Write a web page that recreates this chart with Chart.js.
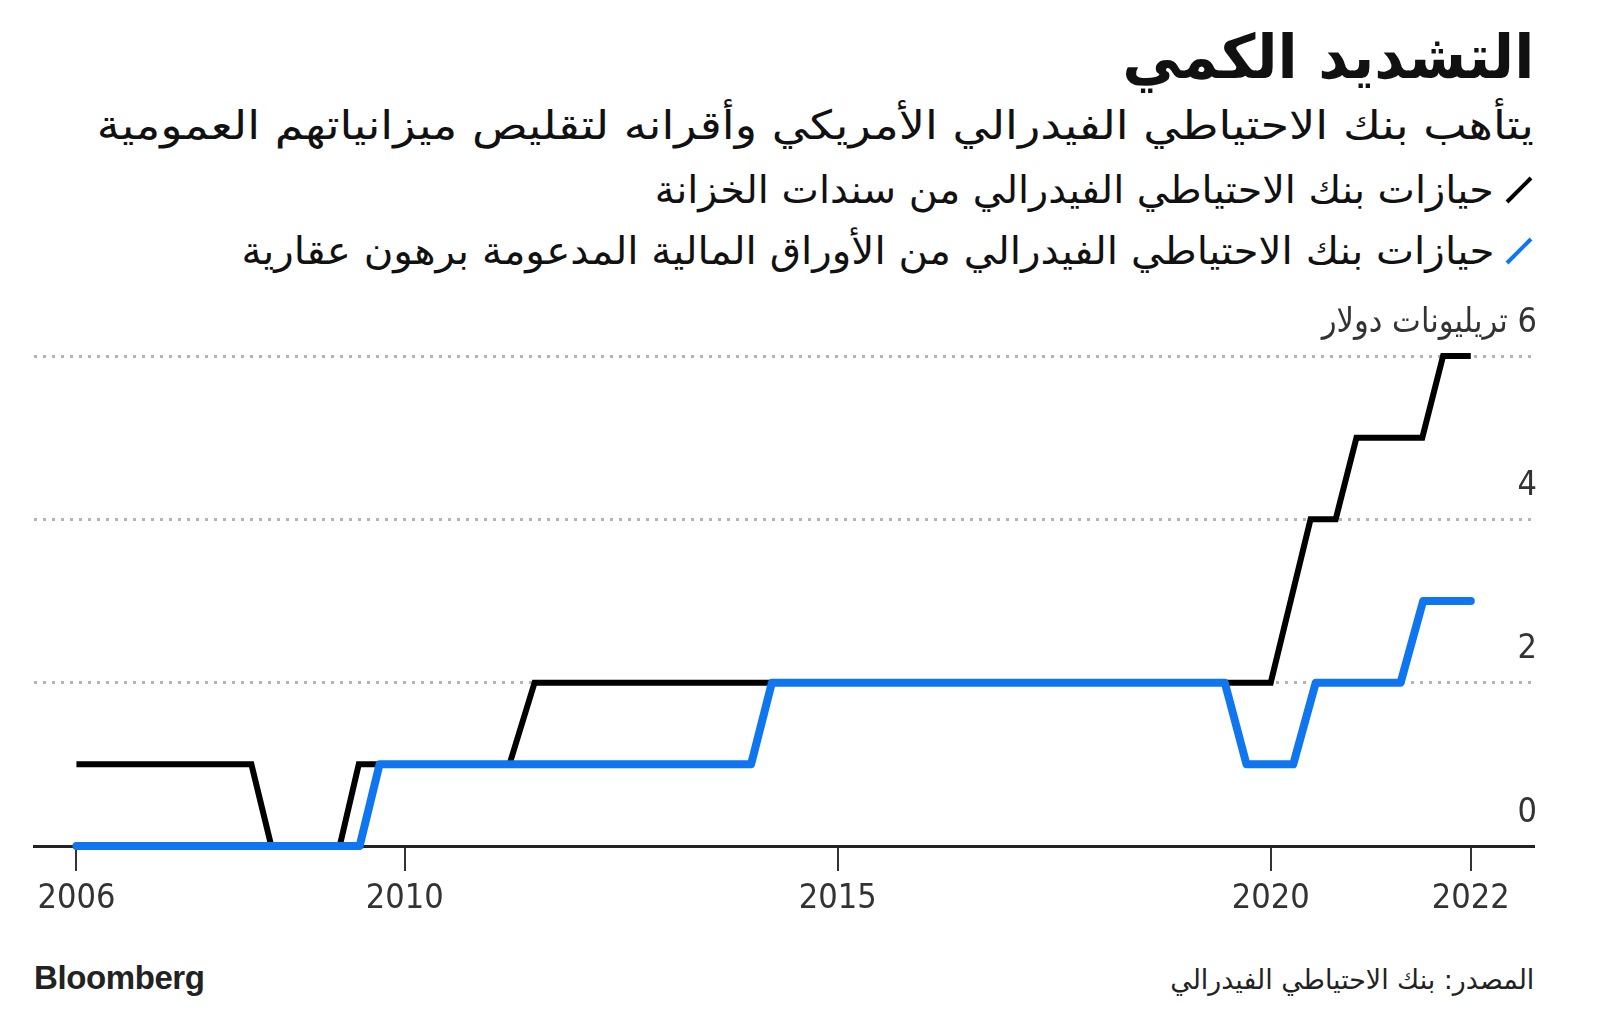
<!DOCTYPE html>
<html lang="ar">
<head>
<meta charset="utf-8">
<script src="https://cdn.jsdelivr.net/npm/chart.js@4.4.0/dist/chart.umd.min.js"></script>
<style>
  html, body { margin: 0; padding: 0; background: #fff; }
  body { width: 1600px; height: 1010px; position: relative; overflow: hidden;
         font-family: "DejaVu Sans", sans-serif; color: #111; }
  .txt { position: absolute; right: 66px; direction: rtl; white-space: nowrap; line-height: 1; }
  .fit { display: inline-block; transform-origin: right center; }
  #title { top: 26px; font-size: 61px; font-weight: bold; }
  #subtitle { top: 105px; font-size: 40px; }
  .leg { font-size: 38px; display: flex; align-items: center; gap: 10px; }
  #leg1 { top: 171px; }
  #leg2 { top: 232px; }
  #source { top: 966px; font-size: 27px; color: #222; }
  #brand { position: absolute; left: 34px; top: 961px; font-family: "Liberation Sans", Arial, sans-serif;
           font-size: 33px; font-weight: bold; letter-spacing: -0.4px; color: #222; line-height: 1; }
  #chart { position: absolute; left: 0; top: 280px; direction: rtl; }
</style>
</head>
<body>
<div class="txt" id="title"><span class="fit" data-w="412">التشديد الكمي</span></div>
<div class="txt" id="subtitle"><span class="fit" data-w="1437">يتأهب بنك الاحتياطي الفيدرالي الأمريكي وأقرانه لتقليص ميزانياتهم العمومية</span></div>
<div class="txt leg" id="leg1"><svg width="30" height="30"><line x1="3" y1="27" x2="27" y2="3" stroke="#000" stroke-width="4"/></svg><span class="fit" data-w="839">حيازات بنك الاحتياطي الفيدرالي من سندات الخزانة</span></div>
<div class="txt leg" id="leg2"><svg width="30" height="30"><line x1="3" y1="27" x2="27" y2="3" stroke="#0f76ef" stroke-width="4"/></svg><span class="fit" data-w="1253">حيازات بنك الاحتياطي الفيدرالي من الأوراق المالية المدعومة برهون عقارية</span></div>
<canvas id="chart" width="1600" height="660"></canvas>
<div id="brand">Bloomberg</div>
<div class="txt" id="source"><span class="fit" data-w="364">المصدر: بنك الاحتياطي الفيدرالي</span></div>

<script>
// سندات الخزانة (تريليون دولار)
const treasuryYears = [2006.21, 2008.23, 2008.46, 2009.25, 2009.47, 2011.21, 2011.50, 2020.00, 2020.46, 2020.75, 2020.99, 2021.75, 2021.99, 2022.31];
const treasuryValues = [1, 1, 0, 0, 1, 1, 2, 2, 4, 4, 5, 5, 6, 6];

// الأوراق المالية المدعومة برهون عقارية
const mbsYears = [2006.21, 2009.48, 2009.71, 2014.00, 2014.24, 2019.47, 2019.72, 2020.26, 2020.52, 2021.50, 2021.76, 2022.31];
const mbsValues = [0, 0, 1, 1, 2, 2, 1, 1, 2, 2, 3, 3];

const xTickValues = [2006.21, 2010, 2015, 2020, 2022.31];
const xTickLabels = ['2006', '2010', '2015', '2020', '2022'];
const yTickValues = [0, 2, 4, 6];
const yUnit = 'تريليونات دولار';

const FONT = '"DejaVu Sans Condensed", "DejaVu Sans", sans-serif';

// stretch the arabic headings to the widths used in the original
document.querySelectorAll('.fit').forEach(el => {
  const w = el.getBoundingClientRect().width;
  el.style.transform = 'scaleX(' + (Number(el.dataset.w) / w) + ')';
});

function toPoints(xs, ys) {
  return xs.map((x, i) => ({ x: x, y: ys[i] }));
}

new Chart(document.getElementById('chart'), {
  type: 'line',
  data: {
    datasets: [
      {
        label: 'MBS',
        data: toPoints(mbsYears, mbsValues),
        borderColor: '#0f76ef',
        borderWidth: 8,
        borderCapStyle: 'round',
        borderJoinStyle: 'round',
        clip: false
      },
      {
        label: 'Treasuries',
        data: toPoints(treasuryYears, treasuryValues),
        borderColor: '#000',
        borderWidth: 6,
        borderJoinStyle: 'miter',
        clip: false
      }
    ]
  },
  options: {
    responsive: false,
    animation: false,
    devicePixelRatio: 1,
    layout: { padding: { left: 34, right: 0, top: 76, bottom: 0 } },
    plugins: { legend: { display: false }, tooltip: { enabled: false } },
    elements: { point: { radius: 0 }, line: { tension: 0 } },
    scales: {
      x: {
        type: 'linear',
        min: 2005.72,
        max: 2023.04,
        afterBuildTicks: s => { s.ticks = xTickValues.map(v => ({ value: v })); },
        afterFit: s => { s.height = 94; },
        grid: { drawOnChartArea: false, drawTicks: true, tickLength: 25, color: '#333', lineWidth: 2 },
        border: { display: true, color: '#222', width: 3 },
        ticks: {
          callback: (v, i) => xTickLabels[i],
          font: { family: FONT, size: 34 },
          color: '#333',
          padding: 8,
          maxRotation: 0,
          autoSkip: false
        }
      },
      y: {
        position: 'right',
        min: 0,
        max: 6,
        afterBuildTicks: s => { s.ticks = yTickValues.map(v => ({ value: v })); },
        afterFit: s => { s.width = 66; },
        grid: { color: '#b4b4b4', lineWidth: 3, drawTicks: false },
        border: { display: false, dash: [3, 6] },
        ticks: {
          mirror: true,
          padding: 3,
          labelOffset: -33,
          callback: v => v === 6 ? v + ' ' + yUnit : String(v),
          font: { family: FONT, size: 34 },
          color: '#333'
        }
      }
    }
  }
});
</script>
</body>
</html>
